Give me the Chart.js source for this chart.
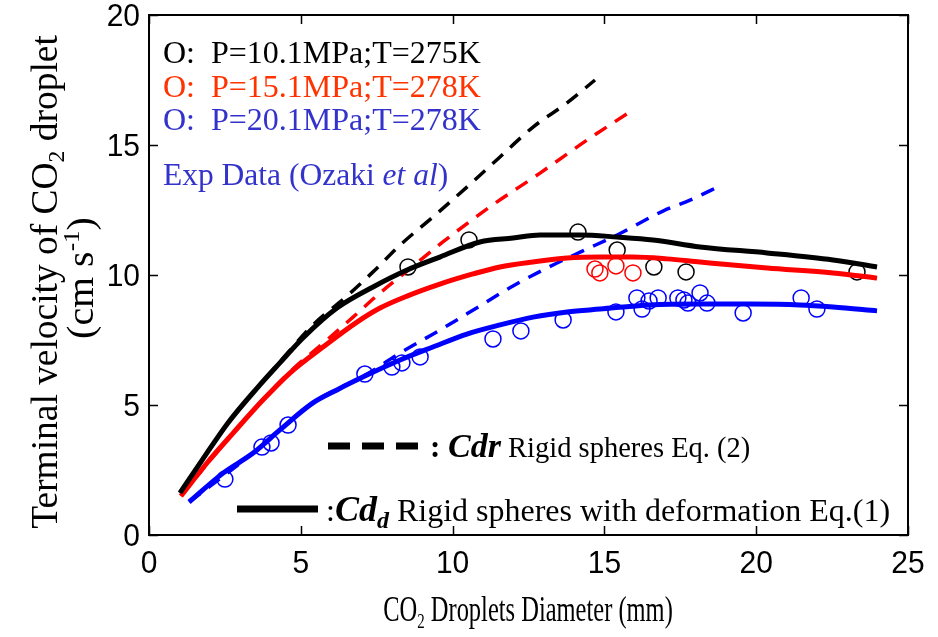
<!DOCTYPE html>
<html>
<head>
<meta charset="utf-8">
<script src="https://cdn.jsdelivr.net/npm/chart.js@4.4.1/dist/chart.umd.min.js"></script>
<style>
  html, body { margin: 0; padding: 0; background: #fff; }
  #wrap { width: 938px; height: 637px; }
</style>
</head>
<body>
<div id="wrap"><canvas id="chart" width="938" height="637"></canvas></div>
<script>
// axis ticks
const xTicks = [0, 5, 10, 15, 20, 25];
const yTicks = [0, 5, 10, 15, 20];

// Cd_d: rigid spheres with deformation, Eq.(1)
const solid10X = [1.02, 1.75, 2.60, 3.59, 4.31, 5.07, 6.19, 7.38, 8.50, 9.58, 10.90, 11.99, 12.88, 14.20, 15.42, 16.60, 18.15, 20.36, 22.53, 23.98];
const solid10Y = [1.62, 2.88, 4.31, 5.69, 6.62, 7.58, 8.73, 9.54, 10.19, 10.69, 11.27, 11.42, 11.54, 11.54, 11.46, 11.35, 11.08, 10.85, 10.58, 10.31];
const solid15X = [1.05, 1.91, 2.77, 3.75, 4.64, 5.73, 6.85, 7.61, 8.50, 9.58, 10.67, 11.56, 12.65, 13.77, 14.86, 15.94, 17.06, 18.15, 20.36, 22.53, 23.98];
const solid15Y = [1.50, 2.77, 3.92, 5.19, 6.23, 7.23, 8.19, 8.73, 9.19, 9.65, 10.04, 10.31, 10.50, 10.65, 10.69, 10.69, 10.62, 10.50, 10.27, 10.08, 9.88];
const solid20X = [1.32, 2.44, 3.43, 4.31, 5.40, 6.19, 7.18, 8.27, 9.35, 10.47, 11.56, 12.65, 13.77, 14.86, 16.50, 18.15, 19.80, 21.44, 22.53, 23.98];
const solid20Y = [1.27, 2.38, 3.15, 4.04, 5.08, 5.58, 6.15, 6.73, 7.23, 7.73, 8.08, 8.38, 8.58, 8.69, 8.85, 8.88, 8.88, 8.85, 8.77, 8.62];

// Cdr: rigid spheres, Eq. (2)
const dash10X = [1.02, 2.60, 4.31, 5.40, 6.52, 7.38, 8.27, 9.35, 10.47, 11.56, 12.65, 13.77, 14.69];
const dash10Y = [1.62, 4.31, 6.65, 8.08, 9.19, 10.12, 11.15, 12.23, 13.38, 14.54, 15.69, 16.62, 17.50];
const dash15X = [1.05, 2.77, 4.64, 5.86, 6.72, 7.61, 8.50, 9.68, 11.23, 12.88, 14.43, 15.94];
const dash15Y = [1.50, 3.92, 6.27, 7.50, 8.38, 9.31, 10.15, 11.27, 12.62, 13.92, 15.19, 16.35];
const dash20X = [1.32, 3.43, 5.40, 7.18, 8.27, 9.58, 10.90, 11.99, 13.11, 14.20, 15.42, 16.93, 17.82, 18.87];
const dash20Y = [1.27, 3.15, 5.08, 6.19, 7.00, 7.88, 8.81, 9.58, 10.27, 10.88, 11.54, 12.46, 12.88, 13.46];

// Exp data (Ozaki et al)
const exp10X = [8.53, 10.54, 14.13, 15.42, 16.63, 17.69, 23.32];
const exp10Y = [10.31, 11.35, 11.65, 10.96, 10.31, 10.12, 10.12];
const exp15X = [14.69, 14.85, 15.38, 15.94];
const exp15Y = [10.23, 10.08, 10.35, 10.08];
const exp20X = [2.50, 3.72, 4.02, 4.58, 7.11, 8.00, 8.33, 8.93, 11.33, 12.25, 13.64, 15.38, 16.07, 16.24, 16.47, 16.77, 17.42, 17.62, 17.75, 18.15, 18.38, 19.57, 21.48, 22.00];
const exp20Y = [2.15, 3.38, 3.54, 4.23, 6.19, 6.46, 6.62, 6.85, 7.54, 7.85, 8.27, 8.58, 9.12, 8.69, 9.00, 9.12, 9.12, 9.04, 8.92, 9.31, 8.92, 8.54, 9.12, 8.69];

const pts = (xs, ys) => xs.map((x, i) => ({ x: x, y: ys[i] }));

const SERIF = '"Liberation Serif", "Times New Roman", serif';
const SANS = '"Liberation Sans", Arial, sans-serif';

function lineSet(xs, ys, color, dashed) {
  return {
    data: pts(xs, ys),
    showLine: true,
    borderColor: color,
    borderWidth: dashed ? 3.5 : 5,
    borderDash: dashed ? [14, 10] : [],
    pointRadius: 0,
    fill: false,
    cubicInterpolationMode: 'monotone'
  };
}

function expSet(xs, ys, color) {
  return {
    data: pts(xs, ys),
    showLine: false,
    pointStyle: 'circle',
    pointRadius: 8,
    borderWidth: 1.5,
    borderColor: color,
    backgroundColor: 'rgba(0,0,0,0)'
  };
}

// text runs, with optional squeeze along the reading direction (condensed look of the original)
function drawRuns(ctx, runs, x, y, opts) {
  const o = Object.assign({ sx: 1, sy: 1, align: 'left', rot: 0 }, opts || {});
  ctx.save();
  ctx.translate(x, y);
  if (o.rot) ctx.rotate(o.rot);
  ctx.scale(o.sx, o.sy);
  let total = 0;
  runs.forEach(r => { ctx.font = r.font; r.w = ctx.measureText(r.t).width; total += r.w; });
  let cx = o.align === 'center' ? -total / 2 : (o.align === 'right' ? -total : 0);
  ctx.textBaseline = 'alphabetic';
  runs.forEach(r => {
    ctx.font = r.font;
    ctx.fillStyle = r.color || '#000';
    ctx.fillText(r.t, cx, r.dy || 0);
    cx += r.w;
  });
  ctx.restore();
}

const frame = {
  id: 'frame',
  afterDraw(chart) {
    const ctx = chart.ctx;
    const a = chart.chartArea;
    const xs = chart.scales.x, ys = chart.scales.y;
    ctx.save();
    ctx.strokeStyle = '#000';
    ctx.lineWidth = 2;
    ctx.strokeRect(a.left, a.top, a.right - a.left, a.bottom - a.top);

    // inward ticks on all four sides
    ctx.lineWidth = 1.5;
    ctx.beginPath();
    xTicks.forEach(v => {
      const px = Math.round(xs.getPixelForValue(v)) + 0.5;
      ctx.moveTo(px, a.bottom); ctx.lineTo(px, a.bottom - 9);
      ctx.moveTo(px, a.top); ctx.lineTo(px, a.top + 9);
    });
    yTicks.forEach(v => {
      const py = Math.round(ys.getPixelForValue(v)) + 0.5;
      ctx.moveTo(a.left, py); ctx.lineTo(a.left + 9, py);
      ctx.moveTo(a.right, py); ctx.lineTo(a.right - 9, py);
    });
    ctx.stroke();

    // tick labels
    const tf = 30, ts = 1.05;
    xTicks.forEach(v => {
      drawRuns(ctx, [{ t: String(v), font: tf + 'px ' + SANS }], xs.getPixelForValue(v), 562 + 0.358 * tf * ts, { sy: ts, align: 'center' });
    });
    yTicks.forEach(v => {
      drawRuns(ctx, [{ t: String(v), font: tf + 'px ' + SANS }], 140, ys.getPixelForValue(v) + 0.358 * tf * ts, { sy: ts, align: 'right' });
    });

    // axis titles
    const xf = 36, yf = 38;
    drawRuns(ctx, [
      { t: 'CO', font: xf + 'px ' + SERIF }, { t: '2', font: Math.round(xf * 0.62) + 'px ' + SERIF, dy: 7 },
      { t: ' Droplets Diameter (mm)', font: xf + 'px ' + SERIF }
    ], 528, 621, { sx: 0.68, align: 'center' });
    drawRuns(ctx, [
      { t: 'Terminal velocity of CO', font: yf + 'px ' + SERIF }, { t: '2', font: Math.round(yf * 0.62) + 'px ' + SERIF, dy: 7 },
      { t: ' droplet', font: yf + 'px ' + SERIF }
    ], 57, 282, { rot: -Math.PI / 2, sx: 0.985, align: 'center' });
    drawRuns(ctx, [
      { t: '(cm s', font: yf + 'px ' + SERIF }, { t: '-1', font: Math.round(yf * 0.62) + 'px ' + SERIF, dy: -14 },
      { t: ')', font: yf + 'px ' + SERIF }
    ], 93, 278, { rot: -Math.PI / 2, sx: 1.05, align: 'center' });

    // in-plot annotations
    const L = '32px ' + SERIF;
    drawRuns(ctx, [{ t: 'O:  P=10.1MPa;T=275K', font: L, color: '#000' }], 163, 63);
    drawRuns(ctx, [{ t: 'O:  P=15.1MPa;T=278K', font: L, color: '#ff3300' }], 163, 97);
    drawRuns(ctx, [{ t: 'O:  P=20.1MPa;T=278K', font: L, color: '#3333cc' }], 163, 130);
    drawRuns(ctx, [
      { t: 'Exp Data (Ozaki ', font: '31.5px ' + SERIF, color: '#3333cc' },
      { t: 'et al', font: 'italic 31.5px ' + SERIF, color: '#3333cc' },
      { t: ')', font: '31.5px ' + SERIF, color: '#3333cc' }
    ], 163, 185);

    ctx.strokeStyle = '#000';
    ctx.lineWidth = 7;
    ctx.setLineDash([22, 12]);
    ctx.beginPath(); ctx.moveTo(328, 446); ctx.lineTo(418, 446); ctx.stroke();
    ctx.setLineDash([]);
    ctx.beginPath(); ctx.moveTo(237, 509); ctx.lineTo(318, 509); ctx.stroke();

    drawRuns(ctx, [
      { t: ': ', font: 'bold 31px ' + SERIF }, { t: 'Cdr', font: 'italic bold 34px ' + SERIF },
      { t: ' Rigid spheres Eq. (2)', font: '28.5px ' + SERIF }
    ], 430, 457);
    drawRuns(ctx, [
      { t: ':', font: '32px ' + SERIF }, { t: 'Cd', font: 'italic bold 36px ' + SERIF },
      { t: 'd', font: 'italic bold 24px ' + SERIF, dy: 7 },
      { t: ' Rigid spheres with deformation Eq.(1)', font: '32px ' + SERIF }
    ], 326, 521);
    ctx.restore();
  }
};

new Chart(document.getElementById('chart'), {
  type: 'scatter',
  data: {
    datasets: [
      lineSet(solid10X, solid10Y, '#000000', false),
      lineSet(solid15X, solid15Y, '#ff0000', false),
      lineSet(solid20X, solid20Y, '#0000ff', false),
      lineSet(dash10X, dash10Y, '#000000', true),
      lineSet(dash15X, dash15Y, '#ff0000', true),
      lineSet(dash20X, dash20Y, '#0000ff', true),
      expSet(exp10X, exp10Y, '#000000'),
      expSet(exp15X, exp15Y, '#ff0000'),
      expSet(exp20X, exp20Y, '#0000ff')
    ]
  },
  options: {
    responsive: false,
    animation: false,
    devicePixelRatio: 1,
    layout: { padding: { top: 15, right: 30, left: 0, bottom: 0 } },
    plugins: { legend: { display: false }, tooltip: { enabled: false } },
    scales: {
      x: {
        type: 'linear', min: 0, max: 25,
        ticks: { display: false, stepSize: 5 },
        grid: { display: false },
        border: { display: false },
        afterFit: s => { s.height = 102; }
      },
      y: {
        type: 'linear', min: 0, max: 20,
        ticks: { display: false, stepSize: 5 },
        grid: { display: false },
        border: { display: false },
        afterFit: s => { s.width = 149; }
      }
    }
  },
  plugins: [frame]
});
</script>
</body>
</html>
